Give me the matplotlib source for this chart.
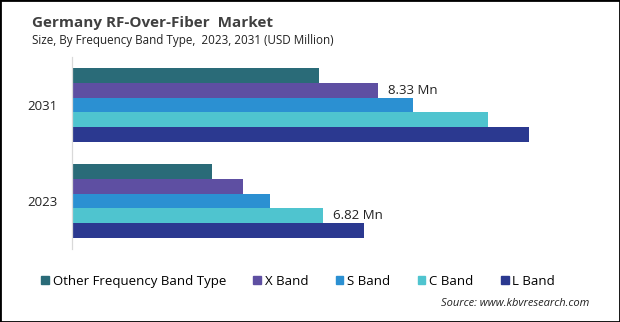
import numpy as np
import matplotlib.pyplot as plt
from matplotlib.patches import Rectangle, Patch

plt.rcParams['font.family'] = ['Open Sans', 'DejaVu Sans']

years = ['2023', '2031']
segments = ['Other Frequency Band Type', 'X Band', 'S Band', 'C Band', 'L Band']
colors = ['#2a6b78', '#5e4fa2', '#2b90d2', '#4fc4cf', '#2b3990']
values = {
    'Other Frequency Band Type': [3.81, 6.70],
    'X Band': [4.63, 8.33],
    'S Band': [5.39, 9.26],
    'C Band': [6.82, 11.30],
    'L Band': [7.95, 12.44],
}
# (segment, year index, label)
labels = [('X Band', 1, '8.33 Mn'), ('C Band', 0, '6.82 Mn')]

fig = plt.figure(figsize=(6.2, 3.22), dpi=100)
ax = fig.add_axes([0.1169, 0.2267, 0.8347, 0.5963])

h = 0.153
y = np.arange(len(years))
for i, seg in enumerate(segments):
    # first segment on top
    off = (2 - i) * h
    ax.barh(y + off, values[seg], height=h, color=colors[i], label=seg)

for seg, yi, txt in labels:
    i = segments.index(seg)
    ax.text(values[seg][yi] + 0.26, y[yi] + (2 - i) * h, txt,
            va='center', ha='left', fontsize=9.5, color='#222222')

ax.set_xlim(0, 14.09)
ax.set_ylim(-0.5, 1.5)
ax.set_yticks(y)
ax.set_yticklabels(years, fontsize=9.5, color='#222222')
ax.tick_params(axis='y', length=0, pad=10.5)
ax.set_xticks([])
for s in ['top', 'right', 'bottom']:
    ax.spines[s].set_visible(False)
ax.spines['left'].set_color('#d9d9d9')
ax.spines['left'].set_linewidth(0.9)

fig.text(0.052, 0.916, 'Germany RF-Over-Fiber  Market', fontsize=11, fontweight='bold',
         color='#404040', va='baseline')
fig.text(0.052, 0.862, 'Size, By Frequency Band Type,  2023, 2031 (USD Million)', fontsize=8.4,
         color='#222222', va='baseline')

handles = [Patch(color=c) for c in colors]
fig.legend(handles, segments, loc='center left', bbox_to_anchor=(0.066, 0.127), ncol=5,
           frameon=False, fontsize=9.5, handlelength=0.58, handleheight=0.58,
           handletextpad=0.3, columnspacing=2.07, borderaxespad=0, borderpad=0)

fig.text(0.950, 0.056, 'Source: www.kbvresearch.com', fontsize=8, style='italic',
         color='#222222', ha='right', va='center')

fig.patches.append(Rectangle((0, 0), 1, 1, transform=fig.transFigure, fill=False,
                             edgecolor='black', linewidth=2))

fig.savefig('out.png', dpi=100)
